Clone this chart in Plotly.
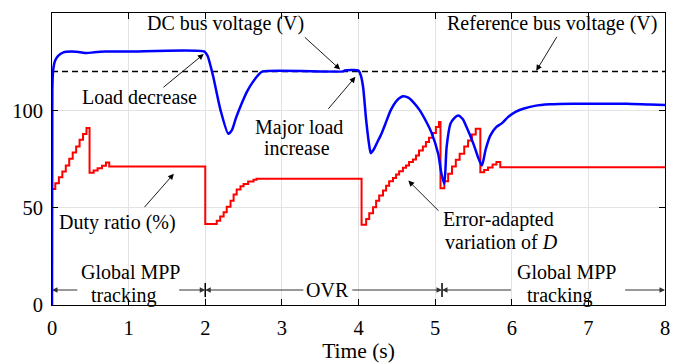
import plotly.graph_objects as go

# ---------------- data ----------------
blue_t = [0.0, 0.004, 0.015, 0.04, 0.08, 0.15, 0.25, 0.35, 0.45, 0.55, 0.7, 1.0, 1.99,
          2.03, 2.1, 2.2, 2.3, 2.35, 2.4, 2.47, 2.55, 2.62, 2.7, 2.75, 3.8, 3.82, 4.0,
          4.03, 4.06, 4.1, 4.14, 4.16, 4.2, 4.25, 4.3, 4.35, 4.42, 4.5, 4.58, 4.65, 4.72,
          4.8, 4.9, 4.95, 5.04, 5.08, 5.12, 5.15, 5.2, 5.25, 5.3, 5.36, 5.41, 5.5, 5.56,
          5.61, 5.66, 5.72, 5.8, 5.87, 5.95, 6.05, 6.15, 6.3, 6.5, 6.8, 7.2, 7.5, 7.8, 8.0]
blue_v = [0.0, 110.0, 120.5, 125.5, 128.0, 129.8, 130.2, 130.0, 129.4, 129.8, 130.2, 130.2, 130.2,
          128.0, 118.0, 100.0, 88.0, 90.0, 96.0, 103.0, 110.0, 114.5, 118.5, 120.0, 120.0, 120.5, 120.5,
          118.0, 112.0, 95.0, 82.0, 78.0, 80.0, 84.0, 88.0, 93.0, 100.0, 105.0, 107.2, 106.5, 104.0,
          100.0, 93.0, 88.8, 77.7, 67.9, 62.2, 81.1, 93.1, 96.0, 97.4, 95.5, 91.4, 82.8, 75.9,
          71.6, 80.0, 87.0, 91.5, 93.3, 96.5, 99.2, 100.8, 102.3, 103.1, 103.4, 103.4, 103.4, 103.0, 102.8]

red_t = [0.0, 0.043, 0.09, 0.135, 0.18, 0.225, 0.27, 0.315, 0.36, 0.405, 0.45,
         0.49, 0.543, 0.595, 0.652, 0.704, 0.747,
         2.0, 2.15, 2.195, 2.24, 2.28, 2.33, 2.37, 2.41, 2.46, 2.5, 2.56, 2.63, 2.67,
         4.04, 4.10, 4.14, 4.19, 4.23, 4.27, 4.32, 4.36, 4.40, 4.45, 4.49, 4.53, 4.58,
         4.62, 4.66, 4.71, 4.75, 4.79, 4.84, 4.88, 4.92, 4.97, 5.01, 5.05,
         5.07, 5.12, 5.17, 5.22, 5.27, 5.32, 5.38, 5.43, 5.48, 5.53,
         5.59, 5.64, 5.69, 5.75, 5.80, 5.85, 8.0]
red_v = [59.6, 62.5, 65.6, 68.6, 71.6, 75.1, 78.4, 81.4, 84.9, 87.9, 90.9,
         67.9, 69.1, 70.3, 71.5, 73.2, 71.1,
         41.6, 43.3, 45.4, 47.6, 50.5, 53.6, 56.7, 59.3, 61.0, 62.2, 63.4, 64.3, 64.8,
         41.2, 44.2, 47.1, 50.2, 53.6, 56.2, 58.8, 61.3, 63.6, 65.3, 67.0, 68.7, 70.5,
         71.6, 73.4, 74.7, 76.8, 79.4, 81.4, 83.7, 85.9, 88.3, 91.4, 94.0,
         60.0, 63.6, 67.4, 71.2, 74.6, 77.7, 81.4, 84.5, 87.6, 90.6,
         68.2, 69.4, 70.6, 72.2, 73.4, 70.8, 70.8]

ref_t = [0.0, 8.0]
ref_v = [120.0, 120.0]

x_ticks = [0, 1, 2, 3, 4, 5, 6, 7, 8]
y_ticks = [0, 50, 100, 150]

phase_bounds = [2.0, 5.09]
phase_y = 7.7

FONT = "Liberation Serif, Times New Roman, serif"
ANN_SIZE = 20

fig = go.Figure()
fig.add_trace(go.Scatter(x=ref_t, y=ref_v, mode="lines",
                         line=dict(color="black", width=1.5, dash="6px,4px"), hoverinfo="skip"))
fig.add_trace(go.Scatter(x=red_t, y=red_v, mode="lines", line_shape="hv",
                         line=dict(color="#ff0000", width=2)))
fig.add_trace(go.Scatter(x=blue_t, y=blue_v, mode="lines", line_shape="spline",
                         line=dict(color="#0000ff", width=2.5, smoothing=0.6)))
fig.add_trace(go.Scatter(x=phase_bounds, y=[phase_y] * len(phase_bounds), mode="markers",
                         marker=dict(symbol="line-ns", size=10, line=dict(color="black", width=1.5))))

ann = []


def text(x, y, s, size=ANN_SIZE):
    ann.append(dict(x=x, y=y, text=s, showarrow=False, xref="x", yref="y",
                    font=dict(family=FONT, size=size, color="black")))


def arrow(x, y, ax, ay, color="black", head=2, width=0.9, hsize=1.3):
    ann.append(dict(x=x, y=y, ax=ax, ay=ay, xref="x", yref="y", axref="x", ayref="y",
                    text="", showarrow=True, arrowhead=head, arrowsize=hsize,
                    arrowwidth=width, arrowcolor=color))


text(2.26, 144.6, "DC bus voltage (V)")
text(6.52, 144.6, "Reference bus voltage (V)")
text(1.14, 107.0, "Load decrease")
text(3.22, 91.2, "Major load")
text(3.2, 80.4, "increase")
text(0.85, 42.3, "Duty ratio (%)")
text(5.83, 44.0, "Error-adapted")
text(5.86, 32.5, "variation of <i>D</i>")
text(1.02, 17.0, "Global MPP")
text(0.935, 5.0, "tracking")
text(3.6, phase_y, "OVR")
text(6.72, 17.0, "Global MPP")
text(6.63, 5.0, "tracking")

arrow(3.76, 121.0, 3.28, 138.2)
arrow(6.32, 120.3, 6.6, 138.5)
arrow(1.98, 128.9, 1.435, 111.2)
arrow(3.96, 117.2, 3.59, 100.0)
arrow(1.59, 67.4, 1.19, 49.5)
arrow(4.65, 63.9, 5.065, 47.6)

dark = "#333333"
arrow(0.0, phase_y, 0.35, phase_y, dark, 2, 1, 1.1)
arrow(2.0, phase_y, 1.64, phase_y, dark, 2, 1, 1.1)
arrow(2.0, phase_y, 3.3, phase_y, dark, 2, 1, 1.1)
arrow(5.09, phase_y, 3.9, phase_y, dark, 2, 1, 1.1)
arrow(5.09, phase_y, 6.01, phase_y, dark, 2, 1, 1.1)
arrow(8.0, phase_y, 7.46, phase_y, dark, 2, 1, 1.1)

axis_common = dict(showline=True, linecolor="black", linewidth=1, mirror="ticks",
                   ticks="inside", ticklen=6, tickcolor="black", automargin=False,
                   showgrid=True, gridcolor="#e3e3e3", gridwidth=1, zeroline=False,
                   tickfont=dict(family=FONT, size=20.5, color="black"))

# page body has an 8px margin, so the figure is sized to fill the rest of the window
fig.update_layout(
    width=673, height=355,
    margin=dict(l=44, r=16, t=5, b=58),
    font=dict(family=FONT, color="black"),
    paper_bgcolor="white", plot_bgcolor="white",
    showlegend=False,
    annotations=ann,
    xaxis=dict(range=[0, 8], tickvals=x_ticks, ticktext=[str(v) for v in x_ticks],
               ticklabelstandoff=4,
               title=dict(text="Time (s)", font=dict(family=FONT, size=21.5, color="black"), standoff=8),
               **axis_common),
    yaxis=dict(range=[0, 150], tickvals=y_ticks, ticktext=[str(v) for v in y_ticks],
               ticklabelstandoff=4, **axis_common),
)

fig.write_html("out.html")
